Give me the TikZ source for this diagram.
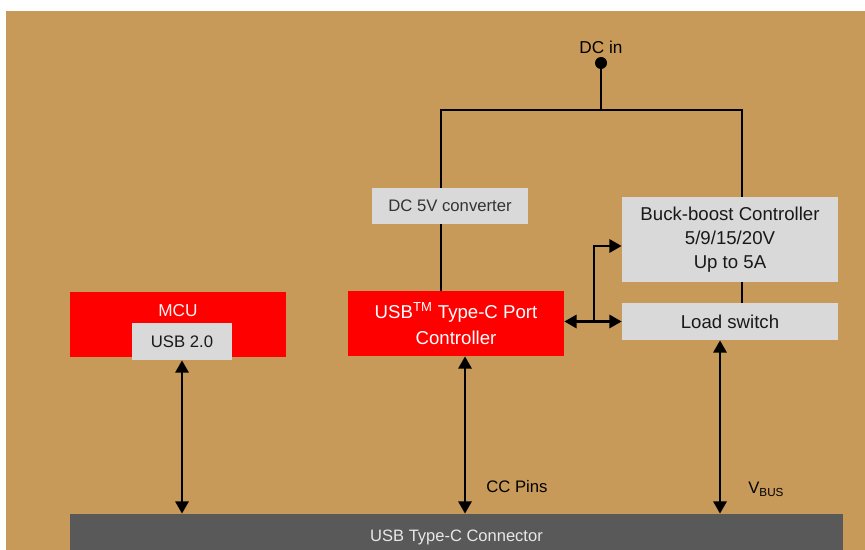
\documentclass[tikz,border=0pt]{standalone}
\usepackage{fontspec}
\setmainfont{Liberation Sans}
\usepackage{xcolor}
\usepackage{tikz}
\usetikzlibrary{arrows.meta, calc}
\definecolor{tanback}{HTML}{C89A5A}
\definecolor{portred}{HTML}{FF0000}
\definecolor{boxgray}{HTML}{D9D9D9}
\definecolor{bargray}{HTML}{595959}
\definecolor{bartext}{HTML}{E8E8E8}
\tikzset{
  blk/.style={fill=#1, draw=none, inner sep=0pt, align=center,
              font=\fontsize{10.6}{13.8}\selectfont, text=black!90},
  blk/.default=boxgray,
  lbl/.style={font=\fontsize{9.5}{11}\selectfont, text=black, inner sep=0pt},
  wire/.style={line width=1.5pt, color=black},
  flow/.style={wire, {Triangle[length=7pt,width=7.5pt]}-{Triangle[length=7pt,width=7.5pt]}},
  feed/.style={wire, -{Triangle[length=7pt,width=7.5pt]}},
}
\begin{document}
\begin{tikzpicture}[
  redblk/.style={blk=portred, text=white, minimum width=4.32cm, minimum height=1.3cm},
  small/.style={font=\fontsize{9.5}{11}\selectfont},
  x=0.02cm, y=-0.02cm]
  \useasboundingbox (0,0) rectangle (865,550);
  \fill[tanback] (6,11) rectangle (865,550);
  % blocks
  \node[blk, small, minimum width=3.12cm, minimum height=0.72cm, text=black!80] (conv) at (450,206) {DC 5V converter};
  \node[redblk] (ctrl) at (456,323.5) {USB\textsuperscript{TM} Type-C Port\\[1pt] Controller};
  \node[redblk] (mcu) at (178,324.5) {};
  \node[lbl, text=white!95!red, font=\fontsize{9.8}{11}\selectfont] (mcul) at (178,311) {MCU};
  \node[blk, small, minimum width=2cm, minimum height=0.74cm] (usbtwo) at (182,341.5) {USB 2.0};
  \node[blk, minimum width=4.32cm, minimum height=1.7cm] (buck) at (730,239.5) {Buck-boost Controller\\5/9/15/20V\\Up to 5A};
  \node[blk, minimum width=4.32cm, minimum height=0.74cm] (load) at (730,321.5) {Load switch};
  \node[blk=bargray, text=bartext, font=\fontsize{9.4}{11}\selectfont, minimum width=15.46cm, minimum height=0.92cm] (conn) at (456.5,537) {USB Type-C Connector};
  % DC in rail
  \node[circle, fill=black, inner sep=0pt, minimum size=0.24cm] (dcin) at (601,63) {};
  \node[lbl, font=\fontsize{9.8}{11}\selectfont, anchor=south] (dcinl) at (601,54) {DC in};
  \coordinate (tl) at (441,110);
  \coordinate (tr) at (742,110);
  \draw[wire] (dcin) -- (dcin |- tl);
  \draw[wire] (conv.north -| tl) -- (tl) -- (tr) -- (buck.north -| tr);
  \draw[wire] (conv.south -| tl) -- (ctrl.north -| tl);
  \draw[wire] (buck.south -| tr) -- (load.north -| tr);
  % links
  \coordinate (ccp) at ($(ctrl.south)+(9,0)$);
  \coordinate (vbus) at ($(load.south)+(-10,0)$);
  \draw[flow] (usbtwo.south) -- (usbtwo.south |- conn.north);
  \draw[flow] (ccp) -- (ccp |- conn.north);
  \draw[flow] (vbus) -- (vbus |- conn.north);
  \draw[flow] (ctrl.east |- load.west) -- (load.west);
  \coordinate (br) at (594,321.5);
  \draw[feed] (br) |- ($(buck.west)+(0,6.5)$);
  \node[lbl, anchor=west] (ccl) at (486,487) {CC Pins};
  \node[lbl, anchor=west] (vbl) at (748,489) {V\textsubscript{BUS}};
\end{tikzpicture}
\end{document}
